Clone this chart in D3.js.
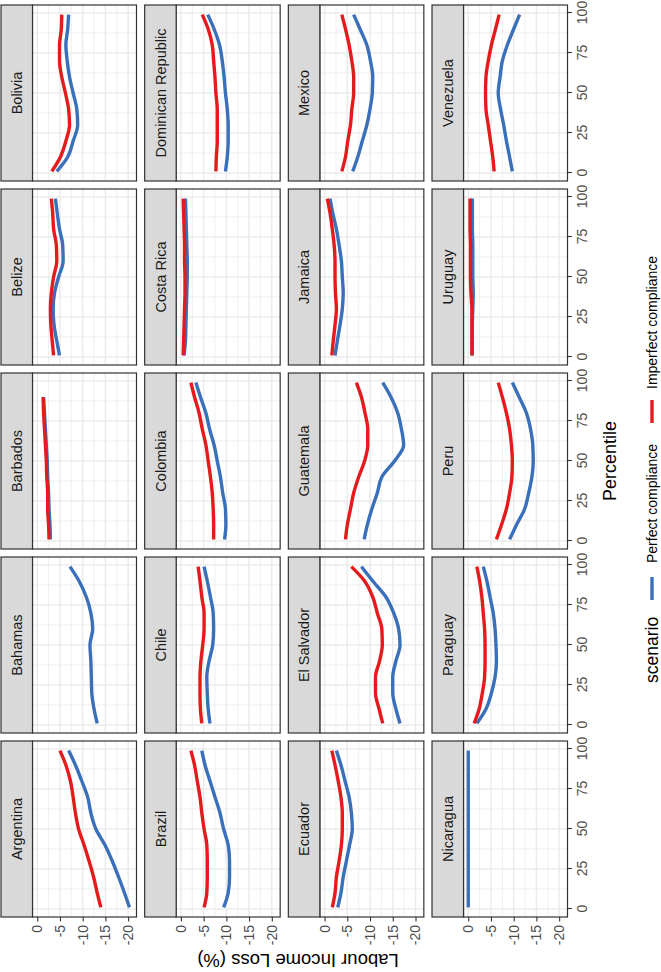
<!DOCTYPE html>
<html><head><meta charset="utf-8">
<script src="https://cdn.jsdelivr.net/npm/d3@7"></script>
<style>
html,body{margin:0;padding:0;background:#fff;}
svg{display:block;}
text{font-family:"Liberation Sans",Arial,Helvetica,sans-serif;}
</style>
</head><body>
<svg id="chart" width="661" height="972"></svg>
<script>
// ---------------- data ----------------
const countries = [
  "Argentina","Bahamas","Barbados","Belize","Bolivia",
  "Brazil","Chile","Colombia","Costa Rica","Dominican Republic",
  "Ecuador","El Salvador","Guatemala","Jamaica","Mexico",
  "Nicaragua","Paraguay","Peru","Uruguay","Venezuela"
];
const percentiles = [1, 10, 20, 30, 40, 50, 60, 70, 80, 90, 99];

// Perfect compliance (blue), one row per country, values at the percentiles above
const perfect = [
  [-20.3,-19.2,-17.9,-16.5,-14.9,-12.9,-11.8,-11.1,-9.8,-8.4,-6.9],   // Argentina
  [-13.2,-12.5,-12.0,-11.9,-11.8,-11.6,-12.2,-11.8,-10.8,-9.2,-7.2],  // Bahamas
  [-2.9,-2.8,-2.6,-2.5,-2.3,-2.2,-2.0,-1.8,-1.6,-1.4,null],           // Barbados
  [-4.9,-4.3,-3.7,-3.5,-3.8,-4.7,-5.7,-5.6,-4.9,-4.4,-4.0],           // Belize
  [-4.3,-6.7,-7.9,-8.9,-8.7,-7.9,-7.1,-6.6,-6.3,-6.7,-6.9],           // Bolivia
  [-9.4,-10.4,-10.7,-10.7,-10.4,-9.4,-8.6,-7.5,-6.4,-5.3,-4.6],       // Brazil
  [-6.4,-6.0,-5.8,-5.7,-6.2,-7.0,-7.2,-7.1,-6.5,-5.8,-5.1],           // Chile
  [-9.6,-9.9,-9.8,-9.2,-8.7,-8.0,-7.3,-6.3,-5.5,-4.3,-3.3],           // Colombia
  [-0.7,-1.0,-1.1,-1.2,-1.3,-1.4,-1.4,-1.3,-1.2,-1.1,-1.0],           // Costa Rica
  [-9.8,-10.2,-10.4,-10.4,-10.2,-9.8,-9.5,-9.1,-8.5,-7.3,-5.9],       // Dominican Republic
  [-2.9,-3.6,-4.1,-4.8,-5.5,-6.1,-5.9,-5.4,-4.5,-3.6,-2.6],           // Ecuador
  [-16.6,-15.7,-15.0,-15.0,-15.7,-16.6,-16.3,-15.2,-13.5,-10.6,-8.1], // El Salvador
  [-8.7,-9.4,-10.4,-11.6,-12.6,-15.4,-17.4,-16.9,-16.1,-14.6,-12.8],  // Guatemala
  [-2.3,-2.8,-3.4,-3.9,-4.1,-3.9,-3.7,-3.2,-2.6,-1.8,-1.2],           // Jamaica
  [-6.2,-7.3,-8.3,-9.3,-10.0,-10.5,-10.6,-10.1,-9.3,-7.8,-6.4],       // Mexico
  [0,0,0,0,0,0,0,0,0,0,0],                                            // Nicaragua
  [-1.9,-3.9,-5.1,-5.9,-6.2,-6.1,-5.9,-5.5,-4.8,-4.1,-3.3],           // Paraguay
  [-9.1,-10.6,-12.4,-13.3,-14.0,-14.3,-14.2,-13.7,-12.8,-11.2,-9.7],  // Peru
  [-0.9,-0.9,-0.9,-1.0,-1.1,-1.0,-1.0,-1.0,-0.9,-0.9,-0.9],           // Uruguay
  [-9.7,-9.1,-8.4,-7.8,-7.1,-6.6,-7.0,-7.5,-8.6,-10.0,-11.3]          // Venezuela
];

// Imperfect compliance (red)
const imperfect = [
  [-14.0,-13.2,-12.4,-11.4,-10.3,-9.1,-8.4,-7.9,-7.3,-6.3,-5.0],      // Argentina
  null,                                                               // Bahamas
  [-2.6,-2.5,-2.3,-2.3,-2.1,-2.0,-1.8,-1.6,-1.4,-1.3,null],           // Barbados
  [-3.6,-3.3,-3.0,-2.9,-3.1,-3.6,-4.3,-4.2,-3.6,-3.4,-3.1],           // Belize
  [-3.2,-5.1,-6.3,-7.1,-6.9,-6.2,-5.4,-4.9,-4.9,-5.3,-5.4],           // Bolivia
  [-5.1,-5.7,-5.8,-5.8,-5.7,-5.1,-4.6,-4.2,-3.6,-3.0,-2.2],           // Brazil
  [-4.6,-4.3,-4.2,-4.2,-4.4,-4.8,-5.1,-5.1,-4.6,-4.2,-3.8],           // Chile
  [-7.2,-7.2,-7.1,-6.9,-6.5,-6.0,-5.5,-4.7,-4.0,-3.0,-2.2],           // Colombia
  [-0.5,-0.6,-0.7,-0.8,-0.9,-0.9,-0.8,-0.8,-0.7,-0.6,-0.5],           // Costa Rica
  [-7.7,-7.8,-8.0,-8.0,-8.0,-7.7,-7.5,-7.2,-6.9,-6.0,-4.7],           // Dominican Republic
  [-1.7,-2.3,-2.6,-3.2,-3.7,-3.9,-3.9,-3.6,-3.0,-2.3,-1.6],           // Ecuador
  [-12.8,-12.0,-11.2,-11.2,-12.1,-12.7,-12.6,-11.6,-10.6,-8.8,-5.9],  // El Salvador
  [-4.6,-5.0,-5.7,-6.4,-7.5,-8.8,-9.5,-9.5,-8.9,-8.1,-7.0],           // Guatemala
  [-1.6,-1.9,-2.3,-2.6,-2.4,-2.3,-2.3,-2.1,-1.7,-1.2,-0.6],           // Jamaica
  [-3.8,-4.6,-5.1,-5.7,-6.0,-6.4,-6.4,-6.0,-5.4,-4.6,-3.8],           // Mexico
  null,                                                               // Nicaragua
  [-1.3,-2.4,-3.1,-3.6,-3.7,-3.7,-3.6,-3.3,-3.0,-2.5,-1.9],           // Paraguay
  [-6.2,-7.3,-8.4,-9.1,-9.6,-9.7,-9.5,-9.1,-8.4,-7.5,-6.6],           // Peru
  [-0.8,-0.8,-0.8,-0.8,-0.6,-0.5,-0.5,-0.5,-0.4,-0.4,-0.4],           // Uruguay
  [-5.7,-5.4,-4.9,-4.4,-3.9,-3.8,-3.9,-4.4,-5.1,-6.0,-6.8]            // Venezuela
];

const valueTicks = [0, -5, -10, -15, -20];
const valueTickLabels = ["0", "-5", "-10", "-15", "-20"];
const valueMinor = [-2.5, -7.5, -12.5, -17.5];
const pctTicks = [0, 25, 50, 75, 100];
const pctMinor = [12.5, 37.5, 62.5, 87.5];
const scenarios = ["Perfect compliance", "Imperfect compliance"];
const scenarioColors = ["#3A6FBA", "#E41A1C"];
const legendTitle = "scenario";
const xTitle = "Percentile";
const yTitle = "Labour Income Loss (%)";

// ---------------- layout (drawn in landscape, then rotated -90°) ----------------
const svg = d3.select("#chart");
const root = svg.append("g").attr("transform", "translate(0,972) rotate(-90)");

const nCol = 5;
const panelW = 176, colStep = 184, left0 = 55;
const stripH = 31.5, plotH = 104;
const rowStep = 143.67, top0 = 1;

const x = d3.scaleLinear().domain([-5, 105]).range([0, panelW]);
const y = d3.scaleLinear().domain([-21.84, 1.04]).range([plotH, 0]);

const line = d3.line()
  .defined(d => d[1] !== null)
  .x(d => x(d[0]))
  .y(d => y(d[1]))
  .curve(d3.curveMonotoneX);

countries.forEach((name, i) => {
  const c = i % nCol, r = Math.floor(i / nCol);
  const px = left0 + c * colStep;
  const stripTop = top0 + r * rowStep;
  const py = stripTop + stripH;
  const p = root.append("g").attr("transform", `translate(${px},${py})`);

  p.append("rect").attr("width", panelW).attr("height", plotH).attr("fill", "#fff");

  // minor grid
  p.selectAll(".minx").data(pctMinor).enter().append("line")
    .attr("x1", d => x(d)).attr("x2", d => x(d)).attr("y1", 0).attr("y2", plotH)
    .attr("stroke", "#EBEBEB").attr("stroke-width", 0.8);
  p.selectAll(".miny").data(valueMinor).enter().append("line")
    .attr("y1", d => y(d)).attr("y2", d => y(d)).attr("x1", 0).attr("x2", panelW)
    .attr("stroke", "#EBEBEB").attr("stroke-width", 0.8);
  // major grid
  p.selectAll(".majx").data(pctTicks).enter().append("line")
    .attr("x1", d => x(d)).attr("x2", d => x(d)).attr("y1", 0).attr("y2", plotH)
    .attr("stroke", "#EBEBEB").attr("stroke-width", 1.5);
  p.selectAll(".majy").data(valueTicks).enter().append("line")
    .attr("y1", d => y(d)).attr("y2", d => y(d)).attr("x1", 0).attr("x2", panelW)
    .attr("stroke", "#EBEBEB").attr("stroke-width", 1.5);

  // series: perfect first, imperfect on top
  [perfect[i], imperfect[i]].forEach((vals, s) => {
    if (!vals) return;
    const pts = percentiles.map((pc, k) => [pc, vals[k]]);
    p.append("path").attr("d", line(pts))
      .attr("fill", "none").attr("stroke", scenarioColors[s])
      .attr("stroke-width", 3.4).attr("stroke-linecap", "butt");
  });

  // panel border
  p.append("rect").attr("width", panelW).attr("height", plotH)
    .attr("fill", "none").attr("stroke", "#333333").attr("stroke-width", 1.2);

  // strip
  p.append("rect").attr("x", 0).attr("y", -stripH).attr("width", panelW).attr("height", stripH)
    .attr("fill", "#D9D9D9").attr("stroke", "#333333").attr("stroke-width", 1.2);
  p.append("text").attr("x", panelW / 2).attr("y", -stripH / 2).attr("dy", "0.36em")
    .attr("text-anchor", "middle").attr("font-size", 14.5).attr("fill", "#1A1A1A")
    .text(name);

  // axes
  if (c === 0) {
    const ax = p.append("g").call(
      d3.axisLeft(y).tickValues(valueTicks)
        .tickFormat((d, k) => valueTickLabels[k])
        .tickSize(4.4).tickPadding(3.5));
    ax.select(".domain").remove();
    ax.selectAll("line").attr("stroke", "#333333").attr("stroke-width", 1.1);
    ax.selectAll("text").attr("fill", "#4D4D4D").attr("font-size", 14)
      .style("font-family", '"Liberation Sans",Arial,sans-serif');
  }
  if (r === 3) {
    const ax = p.append("g").attr("transform", `translate(0,${plotH})`).call(
      d3.axisBottom(x).tickValues(pctTicks).tickSize(4.4).tickPadding(5.5));
    ax.select(".domain").remove();
    ax.selectAll("line").attr("stroke", "#333333").attr("stroke-width", 1.1);
    ax.selectAll("text").attr("fill", "#4D4D4D").attr("font-size", 14)
      .style("font-family", '"Liberation Sans",Arial,sans-serif');
  }
});

// axis titles
root.append("text").attr("x", 511).attr("y", 616).attr("text-anchor", "middle")
  .attr("font-size", 18).attr("fill", "#000").text(xTitle);
root.append("text").attr("transform", "translate(18,298) rotate(-90)")
  .attr("text-anchor", "middle").attr("font-size", 18.5).attr("fill", "#000").text(yTitle);

// legend
const lg = root.append("g").attr("transform", "translate(0,652)");
lg.append("text").attr("x", 289).attr("dy", "0.35em").attr("font-size", 17.5)
  .attr("fill", "#000").text(legendTitle);
const keyX = [372, 549], textX = [409, 583];
scenarios.forEach((s, k) => {
  lg.append("line").attr("x1", keyX[k]).attr("x2", keyX[k] + 23).attr("y1", 0).attr("y2", 0)
    .attr("stroke", scenarioColors[k]).attr("stroke-width", 3.4);
  lg.append("text").attr("x", textX[k]).attr("dy", "0.35em").attr("font-size", 14)
    .attr("fill", "#000").text(s);
});
</script>
</body></html>
